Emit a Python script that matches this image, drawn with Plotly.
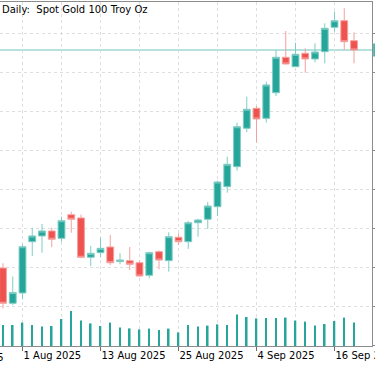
import numpy as np
import plotly.graph_objects as go

# ---------------- data ----------------
dates = ["2025-07-30", "2025-07-31", "2025-08-01", "2025-08-04", "2025-08-05", "2025-08-06",
         "2025-08-07", "2025-08-08", "2025-08-11", "2025-08-12", "2025-08-13", "2025-08-14",
         "2025-08-15", "2025-08-18", "2025-08-19", "2025-08-20", "2025-08-21", "2025-08-22",
         "2025-08-25", "2025-08-26", "2025-08-27", "2025-08-28", "2025-08-29", "2025-09-01",
         "2025-09-02", "2025-09-03", "2025-09-04", "2025-09-05", "2025-09-08", "2025-09-09",
         "2025-09-10", "2025-09-11", "2025-09-12", "2025-09-15", "2025-09-16", "2025-09-17",
         "2025-09-18"]
opens = [3329.2, 3274.9, 3290.8, 3369.7, 3378.5, 3386.2, 3374.9, 3411.2, 3406.2, 3345.7,
         3352.8, 3361.5, 3339.2, 3340.5, 3337.4, 3318.0, 3354.3, 3340.5, 3376.5, 3369.7,
         3398.9, 3404.2, 3423.5, 3454.3, 3485.1, 3544.2, 3574.9, 3559.5, 3598.9, 3653.4,
         3638.9, 3659.5, 3650.8, 3662.0, 3699.5, 3709.7, 3678.9]
highs = [3336.5, 3316.2, 3366.2, 3391.2, 3396.9, 3391.2, 3408.2, 3415.8, 3411.2, 3363.5,
         3375.8, 3380.0, 3351.8, 3361.5, 3340.5, 3354.3, 3356.2, 3384.2, 3382.6, 3401.5,
         3405.1, 3430.8, 3463.5, 3500.5, 3552.8, 3592.8, 3578.5, 3615.8, 3664.6, 3693.8,
         3675.8, 3667.2, 3674.9, 3705.7, 3723.5, 3728.8, 3691.8]
lows = [3267.2, 3272.3, 3281.1, 3347.7, 3352.8, 3361.5, 3369.7, 3383.5, 3344.2, 3332.3,
        3345.7, 3333.8, 3334.9, 3326.2, 3315.8, 3313.4, 3327.2, 3323.5, 3364.6, 3358.5,
        3377.4, 3389.2, 3409.2, 3445.1, 3478.9, 3538.0, 3522.0, 3552.8, 3593.8, 3642.3,
        3638.5, 3629.7, 3645.7, 3644.2, 3692.8, 3664.6, 3644.2]
closes = [3274.9, 3291.5, 3362.0, 3378.5, 3386.2, 3373.4, 3402.0, 3404.2, 3345.7, 3351.8,
          3359.5, 3337.4, 3341.5, 3334.9, 3316.9, 3352.8, 3341.5, 3377.4, 3369.7, 3398.9,
          3403.1, 3424.6, 3461.5, 3488.8, 3546.6, 3573.4, 3558.5, 3610.8, 3653.4, 3643.1,
          3658.0, 3650.8, 3661.5, 3698.0, 3709.7, 3677.4, 3664.6]
volumes = [105, 105, 117, 105, 97, 100, 135, 175, 127, 113, 100, 117, 93, 88, 83, 87, 80, 87,
           68, 105, 97, 102, 108, 105, 157, 145, 138, 140, 140, 142, 127, 122, 103, 110, 125,
           142, 118]  # tick volume, thousands

label_dates = ["2025-07-22", "2025-08-01", "2025-08-13", "2025-08-25", "2025-09-04", "2025-09-16"]
label_texts = ["22 Jul 2025", "1 Aug 2025", "13 Aug 2025", "25 Aug 2025", "4 Sep 2025", "16 Sep 2025"]
grid_dates = ["2025-08-01", "2025-08-07", "2025-08-13", "2025-08-19", "2025-08-25",
              "2025-08-29", "2025-09-04", "2025-09-10", "2025-09-16"]
title_text = "Daily:\u00a0 Spot Gold 100 Troy Oz"

# ---------------- positions (trading-day index) ----------------
x = np.busday_count(dates[0], dates)
lx = np.busday_count(dates[0], label_dates)
gx = np.busday_count(dates[0], grid_dates)

x_range = [-0.3077, 37.846]
y_range = [3209.23, 3738.46]
v_range = [0, 1720]

W, H = 375, 366
M = dict(l=0, r=3, t=2, b=20)

GREEN = "#26a69a"
RED = "#ef5350"

fig = go.Figure()
fig.add_trace(go.Bar(
    x=x, y=volumes, yaxis="y2", width=0.16,
    marker=dict(color=GREEN, line=dict(width=0)), showlegend=False, hoverinfo="skip"))
fig.add_trace(go.Candlestick(
    x=x, open=opens, high=highs, low=lows, close=closes,
    increasing=dict(fillcolor=GREEN, line=dict(color="#7fcdc4", width=1)),
    decreasing=dict(fillcolor=RED, line=dict(color="#f5a09d", width=1)),
    whiskerwidth=0, showlegend=False))

in_view = [(v, t) for v, t in zip(lx, label_texts) if x_range[0] <= v <= x_range[1]]
off_view = [(v, t) for v, t in zip(lx, label_texts) if not (x_range[0] <= v <= x_range[1])]

fig.update_layout(
    width=W, height=H, margin=M, autosize=False,
    paper_bgcolor="white", plot_bgcolor="white",
    boxgap=0.3, boxgroupgap=0,
    font=dict(family="DejaVu Sans", size=10, color="black"),
    xaxis=dict(
        range=x_range, rangeslider=dict(visible=False), automargin=False,
        tickmode="array", tickvals=[v for v, _ in in_view], ticktext=[t for _, t in in_view],
        ticks="outside", ticklen=4, tickcolor="#6e6e6e", tickwidth=1,
        ticklabelposition="outside right", ticklabeloverflow="allow",
        showgrid=True, gridcolor="#dedede", griddash="dot", gridwidth=1,
        minor=dict(tickmode="array", tickvals=list(gx), showgrid=True,
                   gridcolor="#dedede", griddash="dot", gridwidth=1, ticks=""),
        showline=True, linecolor="#8c8c8c", linewidth=1, mirror=True,
        zeroline=False, tickfont=dict(family="DejaVu Sans", size=10, color="black"),
    ),
    yaxis=dict(
        range=y_range, side="right", tick0=3270, dtick=60, automargin=False,
        ticks="outside", ticklen=3, tickcolor="#8c8c8c", showticklabels=False,
        showgrid=True, gridcolor="#dedede", griddash="dot", gridwidth=1,
        showline=True, linecolor="#8c8c8c", linewidth=1, zeroline=False,
    ),
    yaxis2=dict(range=v_range, overlaying="y", visible=False, automargin=False),
)

# bid line at last close
fig.add_shape(type="line", xref="paper", x0=0, x1=1, yref="y",
              y0=closes[-1], y1=closes[-1], line=dict(color="#6cc5bc", width=1), layer="below")
# price label box just right of the plot border
frac = (closes[-1] - y_range[0]) / (y_range[1] - y_range[0])
half = 10 / (y_range[1] - y_range[0])
fig.add_shape(type="rect", xref="paper", yref="paper", x0=1.003, x1=1.03,
              y0=frac - half, y1=frac + half, fillcolor="#4db6ac", line=dict(width=0))

# title
fig.add_annotation(text=title_text, xref="paper", yref="paper", x=0, y=1,
                   xanchor="left", yanchor="top", showarrow=False,
                   font=dict(family="DejaVu Sans", size=10, color="black"))
# cut-off date label left of the view
for v, t in off_view:
    fig.add_annotation(text=t, xref="paper", yref="paper",
                       x=(v - x_range[0]) / (x_range[1] - x_range[0]), y=0,
                       xanchor="left", yanchor="top", yshift=-4, xshift=1, showarrow=False,
                       font=dict(family="DejaVu Sans", size=10, color="black"))

fig.write_html("out.html", config={"displayModeBar": False},
               post_script="document.body.style.margin='0';document.body.style.overflow='hidden';")
